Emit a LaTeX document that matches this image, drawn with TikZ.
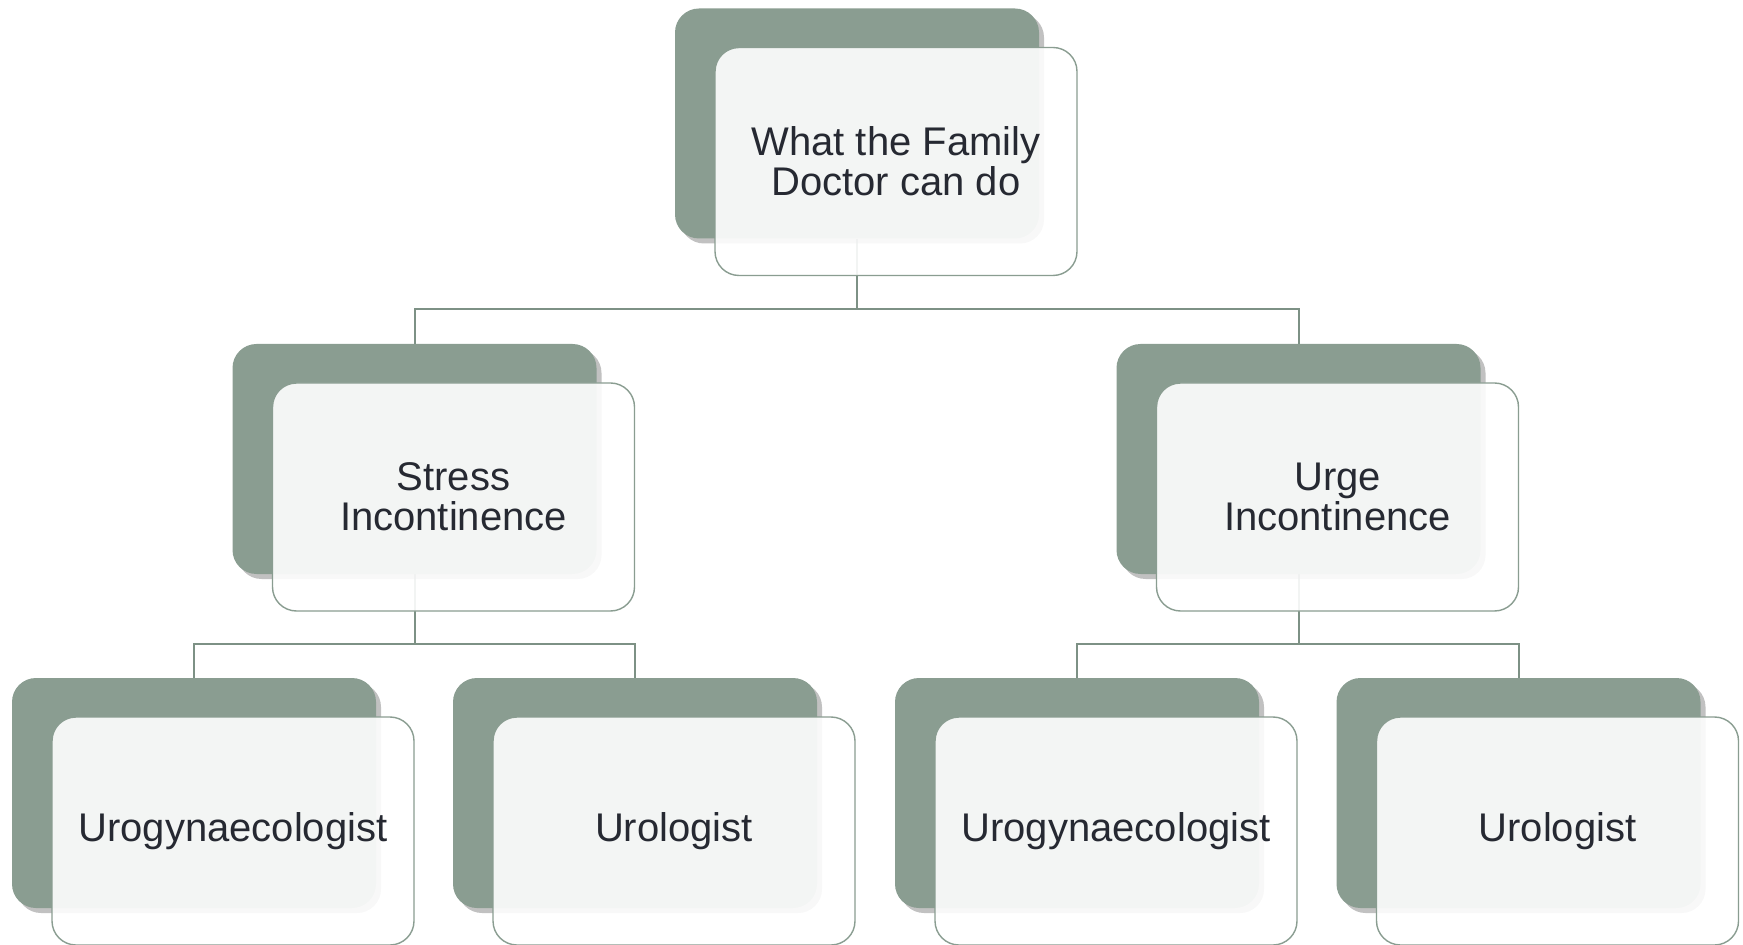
\documentclass[tikz,border=0pt]{standalone}
\usepackage{fontspec}
\setmainfont{Liberation Sans}
\usetikzlibrary{shadows,backgrounds}
\definecolor{sage}{RGB}{138,157,145}
\definecolor{sageline}{RGB}{125,145,133}
\definecolor{ink}{RGB}{38,41,50}
\begin{document}
\begin{tikzpicture}[x=0.5pt,y=-0.5pt,
  back/.style={rectangle, rounded corners=12pt, minimum width=182pt, minimum height=115pt,
    fill=sage, inner sep=0pt,
    drop shadow={shadow xshift=2.5pt, shadow yshift=-2.5pt, opacity=0.35, fill=black!70}},
  front/.style={rectangle, rounded corners=12pt, minimum width=181pt, minimum height=114pt,
    draw=sage, line width=0.7pt, fill=white, fill opacity=0.9, text opacity=1, text=ink,
    font=\fontsize{20}{20}\selectfont, align=center, inner sep=0pt},
  conn/.style={draw=sageline, line width=1pt}]
\useasboundingbox (0,0) rectangle (1743,945);
% back boxes
\node[back] (d0) at (857,123.5) {};
\node[back] (d1) at (414.5,459) {};
\node[back] (d2) at (1298.5,459) {};
\node[back] (d3) at (194,793) {};
\node[back] (d4) at (635,793) {};
\node[back] (d5) at (1077,793) {};
\node[back] (d6) at (1518.5,793) {};
% front boxes
\node[front] (t0) at (896,161.5) {What the Family\\Doctor can do};
\node[front] (t1) at (453.5,497) {Stress\\Incontinence};
\node[front] (t2) at (1337.5,497) {Urge\\Incontinence};
\node[front] (t3) at (233,831) {Urogynaecologist};
\node[front] (t4) at (674,831) {Urologist};
\node[front] (t5) at (1116,831) {Urogynaecologist};
\node[front] (t6) at (1557.5,831) {Urologist};
% connectors
\begin{scope}[on background layer]
\draw[conn] (d0.south) -- ++(0,70.5) -| (d1.north);
\draw[conn] (d0.south) -- ++(0,70.5) -| (d2.north);
\draw[conn] (d1.south) -- ++(0,70) -| (d3.north);
\draw[conn] (d1.south) -- ++(0,70) -| (d4.north);
\draw[conn] (d2.south) -- ++(0,70) -| (d5.north);
\draw[conn] (d2.south) -- ++(0,70) -| (d6.north);
\end{scope}
\end{tikzpicture}
\end{document}
